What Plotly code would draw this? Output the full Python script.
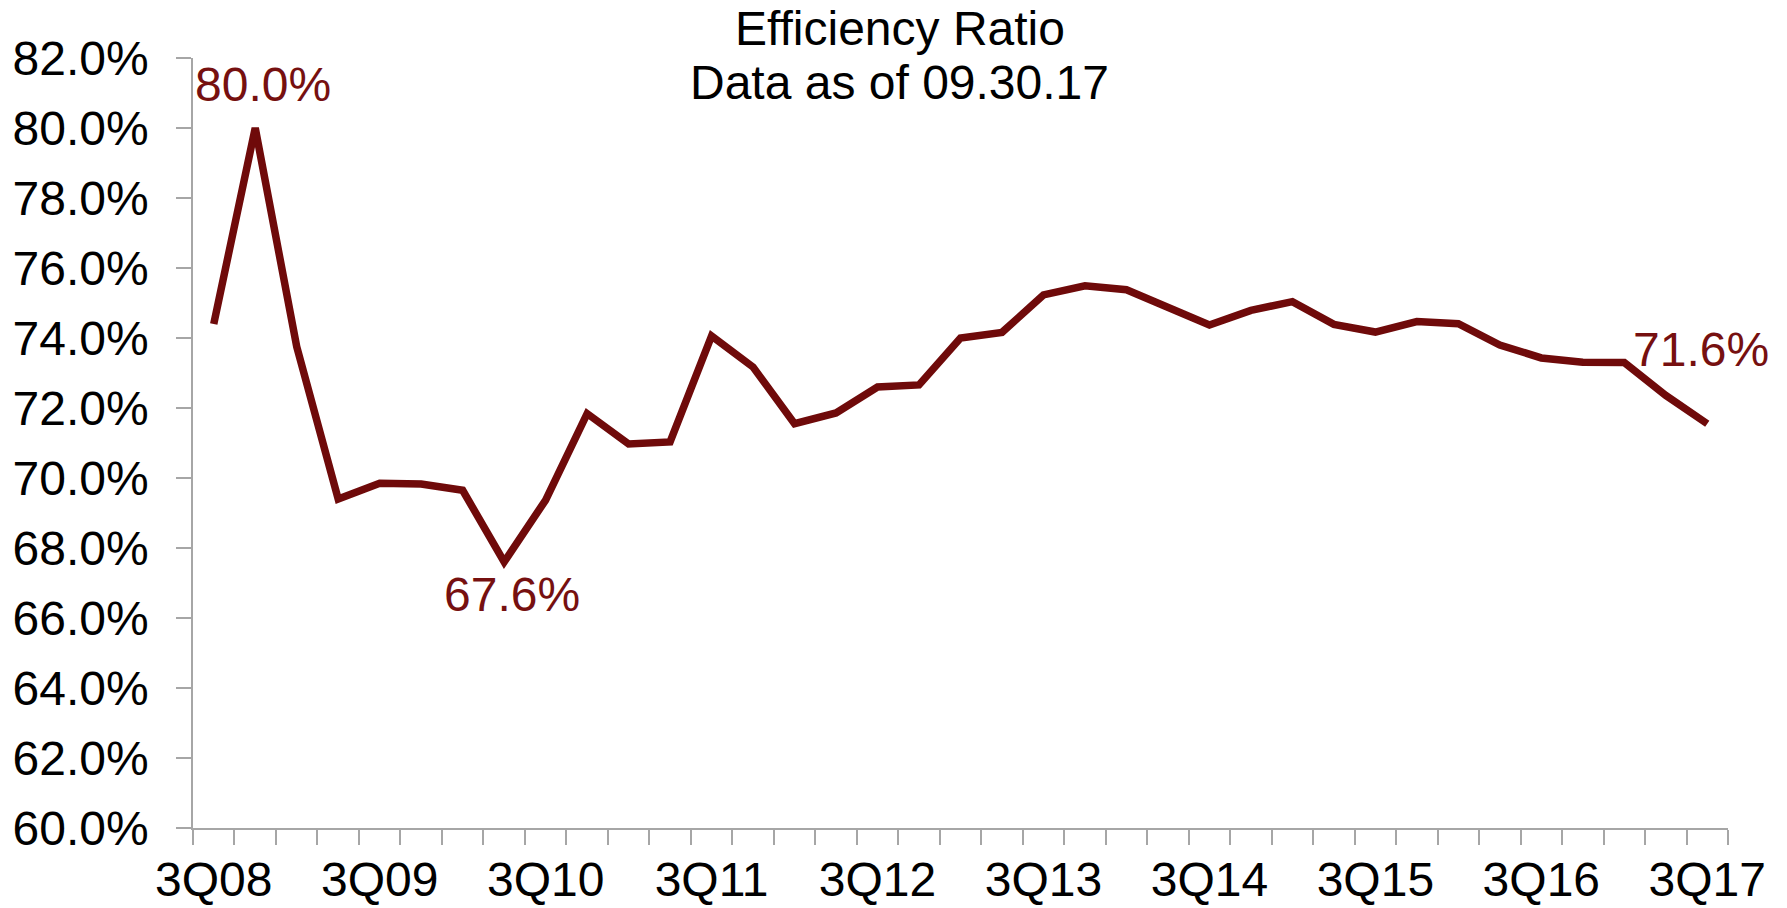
import plotly.graph_objects as go

quarters = ["3Q08", "4Q08", "1Q09", "2Q09", "3Q09", "4Q09", "1Q10", "2Q10", "3Q10", "4Q10",
            "1Q11", "2Q11", "3Q11", "4Q11", "1Q12", "2Q12", "3Q12", "4Q12", "1Q13", "2Q13",
            "3Q13", "4Q13", "1Q14", "2Q14", "3Q14", "4Q14", "1Q15", "2Q15", "3Q15", "4Q15",
            "1Q16", "2Q16", "3Q16", "4Q16", "1Q17", "2Q17", "3Q17"]
efficiency_ratio = [74.4, 80.0, 73.75, 69.4, 69.85, 69.83, 69.65, 67.6, 69.37, 71.84,
                    70.97, 71.03, 74.06, 73.17, 71.55, 71.86, 72.6, 72.66, 74.0, 74.16,
                    75.23, 75.49, 75.38, 74.89, 74.37, 74.79, 75.04, 74.39, 74.17, 74.47,
                    74.41, 73.8, 73.43, 73.31, 73.3, 72.36, 71.55]
label_quarters = ["3Q08", "3Q09", "3Q10", "3Q11", "3Q12", "3Q13", "3Q14", "3Q15", "3Q16", "3Q17"]
callouts = [("4Q08", "80.0%"), ("2Q10", "67.6%"), ("3Q17", "71.6%")]
y_ticks = [60, 62, 64, 66, 68, 70, 72, 74, 76, 78, 80, 82]

LINE = "#6F0A0A"
TEXT_RED = "#761010"
AXIS = "#A6A6A6"
FONT = "Liberation Sans, Arial, sans-serif"
FS = 48

idx = list(range(len(quarters)))
fig = go.Figure()
fig.add_trace(go.Scatter(x=idx, y=efficiency_ratio, mode="lines",
                         line=dict(color=LINE, width=7.5), hoverinfo="skip"))

shifts = {"80.0%": (8, 44), "67.6%": (8, -32), "71.6%": (-6, 74)}
for q, t in callouts:
    i = quarters.index(q)
    dx, dy = shifts[t]
    fig.add_annotation(x=i, y=efficiency_ratio[i], text=t, showarrow=False,
                       xshift=dx, yshift=dy, font=dict(family=FONT, size=FS, color=TEXT_RED))

fig.add_annotation(xref="paper", yref="paper", x=0.4603, y=1 + 29.5 / 770.6,
                   text="Efficiency Ratio", showarrow=False, yanchor="middle",
                   font=dict(family=FONT, size=FS, color="black"))
fig.add_annotation(xref="paper", yref="paper", x=0.4603, y=1 - 24.5 / 770.6,
                   text="Data as of 09.30.17", showarrow=False, yanchor="middle",
                   font=dict(family=FONT, size=FS, color="black"))

n = len(quarters)
fig.update_layout(
    width=1787, height=908,
    margin=dict(l=193, r=59, t=58, b=80),
    paper_bgcolor="white", plot_bgcolor="white",
    showlegend=False,
    font=dict(family=FONT, size=FS, color="black"),
    xaxis=dict(range=[-0.5, n - 0.5], tickmode="array",
               tickvals=[quarters.index(q) for q in label_quarters],
               ticktext=label_quarters, ticks="", showgrid=False, zeroline=False,
               showline=True, linecolor=AXIS, linewidth=1.5,
               minor=dict(tickmode="array", tickvals=[i - 0.5 for i in range(n + 1)],
                          ticks="outside", ticklen=15, tickcolor=AXIS, tickwidth=1.5,
                          showgrid=False),
               ticklabelstandoff=9, automargin=False,
               tickfont=dict(family=FONT, size=FS, color="black")),
    yaxis=dict(range=[60, 82], tickmode="array", tickvals=y_ticks,
               ticktext=[f"{v:.1f}%" for v in y_ticks],
               ticks="outside", ticklen=15, tickcolor=AXIS, tickwidth=1.5,
               showgrid=False, zeroline=False, showline=True, linecolor=AXIS, linewidth=1.5,
               ticklabelstandoff=18, automargin=False,
               tickfont=dict(family=FONT, size=FS, color="black")),
)

fig.write_html("out.html")
